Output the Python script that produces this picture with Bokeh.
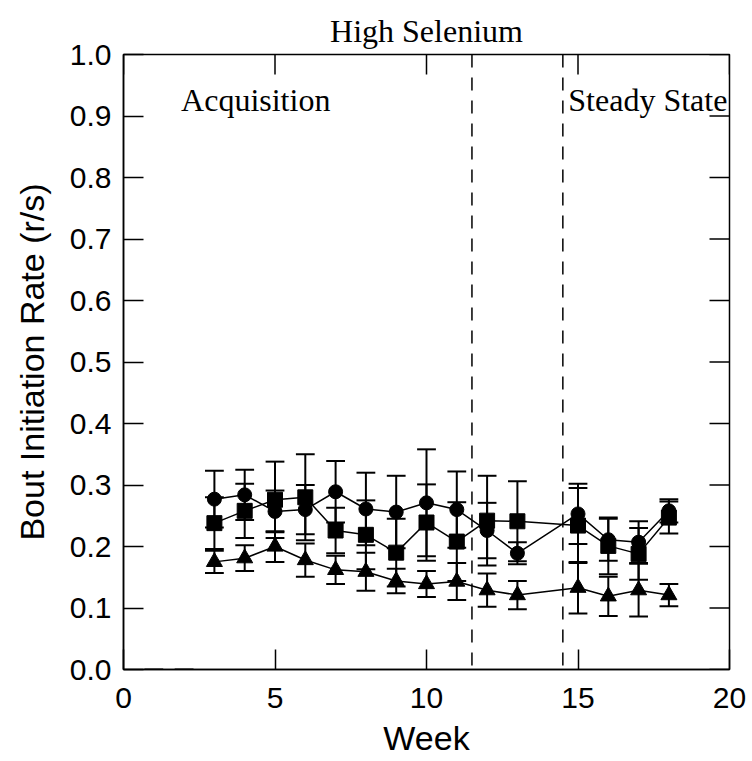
from bokeh.plotting import figure
from bokeh.models import Span, FixedTicker, Title, Label, CustomJSTickFormatter
from bokeh.embed import file_html
from bokeh.resources import INLINE

weeks = [3, 4, 5, 6, 7, 8, 9, 10, 11, 12, 13, 15, 16, 17, 18]

circle_mean = [0.277, 0.284, 0.257, 0.260, 0.289, 0.261, 0.256, 0.271, 0.260, 0.226, 0.189, 0.253, 0.211, 0.207, 0.258]
circle_err = [0.046, 0.041, 0.034, 0.040, 0.050, 0.059, 0.059, 0.087, 0.062, 0.045, 0.018, 0.049, 0.034, 0.034, 0.019]

square_mean = [0.238, 0.258, 0.276, 0.280, 0.226, 0.219, 0.190, 0.239, 0.208, 0.242, 0.241, 0.234, 0.201, 0.188, 0.247]
square_err = [0.042, 0.044, 0.062, 0.070, 0.037, 0.056, 0.055, 0.062, 0.064, 0.073, 0.065, 0.061, 0.046, 0.042, 0.026]

triangle_mean = [0.175, 0.181, 0.200, 0.178, 0.162, 0.159, 0.144, 0.139, 0.143, 0.129, 0.121, 0.133, 0.119, 0.129, 0.121]
triangle_err = [0.018, 0.021, 0.025, 0.027, 0.023, 0.031, 0.020, 0.021, 0.030, 0.027, 0.023, 0.042, 0.032, 0.043, 0.018]

zero_weeks = [1, 2]
zero_vals = [0.0, 0.0]

phase_bounds = [11.5, 14.5]
phase_labels = ["Acquisition", "Steady State"]
phase_label_x = [1.9, 14.68]
phase_label_y = 0.926

x_ticks = [0, 5, 10, 15, 20]
y_ticks = [0.0, 0.1, 0.2, 0.3, 0.4, 0.5, 0.6, 0.7, 0.8, 0.9, 1.0]

X_MIN, X_MAX = 0, 20
Y_MIN, Y_MAX = 0.0, 1.0

SANS = "Liberation Sans"
SERIF = "Liberation Serif"

W, H = 752, 761
BL, BR, BT, BB = 123, 23, 54, 92
FRAME_W = W - BL - BR
FRAME_H = H - BT - BB
TICK_PX = 20

p = figure(width=W, height=H, x_range=(X_MIN, X_MAX), y_range=(Y_MIN, Y_MAX),
           output_backend="svg", toolbar_location=None,
           min_border_left=BL, min_border_right=BR, min_border_top=BT, min_border_bottom=BB,
           x_axis_label="Week", y_axis_label="Bout Initiation Rate (r/s)")

p.title = Title(text="High Selenium", align="center", text_font=SERIF,
                text_font_size="32px", text_font_style="normal", text_color="black",
                standoff=12)

p.grid.visible = False
p.outline_line_color = "black"
p.outline_line_width = 1.5
p.background_fill_color = "white"
p.border_fill_color = "white"

p.xaxis.ticker = FixedTicker(ticks=x_ticks)
p.yaxis.ticker = FixedTicker(ticks=y_ticks)
p.yaxis.formatter = CustomJSTickFormatter(code="return tick.toFixed(1);")

for ax in list(p.xaxis) + list(p.yaxis):
    ax.major_tick_in = TICK_PX
    ax.major_tick_out = 0
    ax.minor_tick_in = 0
    ax.minor_tick_out = 0
    ax.axis_line_color = "black"
    ax.axis_line_width = 1.5
    ax.major_tick_line_width = 1.5
    ax.major_tick_line_color = "black"
    ax.major_label_text_font = SANS
    ax.major_label_text_font_size = "30px"
    ax.major_label_text_color = "black"
    ax.axis_label_text_font = SANS
    ax.axis_label_text_font_size = "34px"
    ax.axis_label_text_font_style = "normal"
    ax.axis_label_text_color = "black"

p.xaxis.major_label_standoff = 18
p.xaxis.axis_label_standoff = 8
p.yaxis.major_label_standoff = 12
p.yaxis.axis_label_standoff = 16

# inward ticks on the top and right edges of the frame
dx = TICK_PX * (X_MAX - X_MIN) / FRAME_W
dy = TICK_PX * (Y_MAX - Y_MIN) / FRAME_H
p.segment(x0=x_ticks, y0=[Y_MAX] * len(x_ticks), x1=x_ticks, y1=[Y_MAX - dy] * len(x_ticks),
          line_color="black", line_width=1.5)
p.segment(x0=[X_MAX] * len(y_ticks), y0=y_ticks, x1=[X_MAX - dx] * len(y_ticks), y1=y_ticks,
          line_color="black", line_width=1.5)

for b in phase_bounds:
    p.add_layout(Span(location=b, dimension="height", line_color="black",
                      line_width=1.5, line_dash="13 10"))

for lbl, lx in zip(phase_labels, phase_label_x):
    p.add_layout(Label(x=lx, y=phase_label_y, text=lbl, text_font=SERIF,
                       text_font_size="32px", text_baseline="middle", text_align="left",
                       text_color="black"))

cap = 0.31

def draw_series(means, errs, marker, size):
    lo = [m - e for m, e in zip(means, errs)]
    hi = [m + e for m, e in zip(means, errs)]
    xl = [w - cap for w in weeks]
    xr = [w + cap for w in weeks]
    p.segment(x0=weeks, y0=lo, x1=weeks, y1=hi, line_color="black", line_width=2)
    p.segment(x0=xl, y0=lo, x1=xr, y1=lo, line_color="black", line_width=2)
    p.segment(x0=xl, y0=hi, x1=xr, y1=hi, line_color="black", line_width=2)
    p.line(weeks, means, line_color="black", line_width=1.5)
    p.scatter(weeks, means, marker=marker, size=size, fill_color="black", line_color="black")

draw_series(triangle_mean, triangle_err, "triangle", 16)
draw_series(square_mean, square_err, "square", 15)
draw_series(circle_mean, circle_err, "circle", 14)

p.segment(x0=[w - cap for w in zero_weeks], y0=zero_vals,
          x1=[w + cap for w in zero_weeks], y1=zero_vals, line_color="black", line_width=2)

open("out.html", "w").write(file_html(p, INLINE))
